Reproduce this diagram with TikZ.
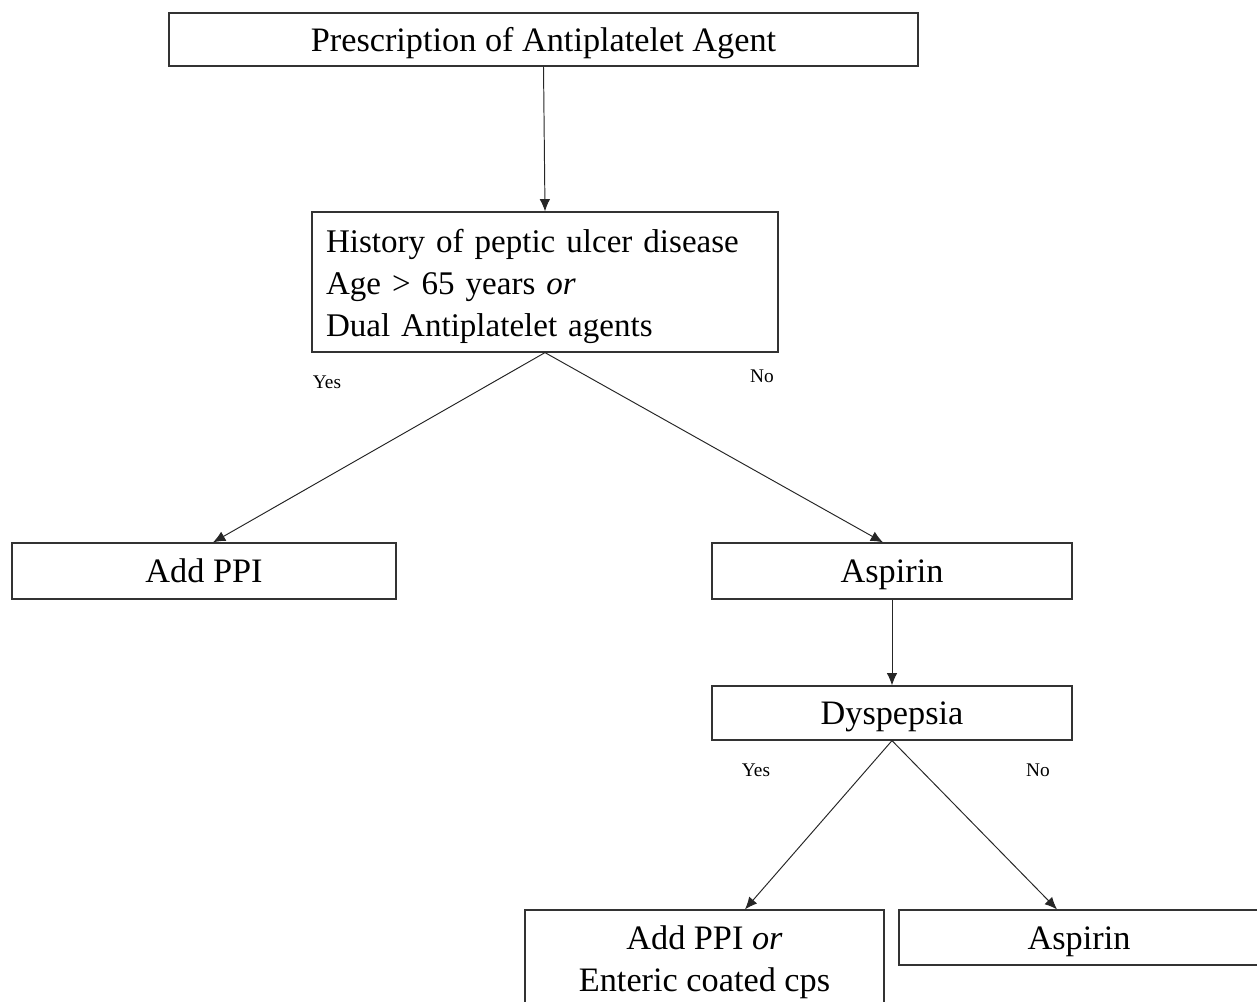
\documentclass[tikz,border=0pt]{standalone}
\usepackage{fontspec}
\setmainfont{Liberation Serif}
\usetikzlibrary{positioning, arrows.meta, calc}

\begin{document}
\begin{tikzpicture}[
    >={Latex[length=7pt, width=6pt]},
    block/.style={draw=black!80, line width=0.7pt, rectangle, minimum height=1.1cm, align=center, fill=white, font=\fontsize{19.5}{23.8}\selectfont},
    oneline/.style={text height=14.5pt, text depth=1pt},
    link/.style={->, draw=black!85, line width=0.55pt},
    answer/.style={font=\fontsize{11}{13}\selectfont, inner sep=1pt}
]

    \useasboundingbox (0,0) rectangle (25.14,-20.04);
    \clip (0,0) rectangle (25.14,-20.04);

    % Nodes
    \node[block, oneline, minimum width=14.98cm, minimum height=1.06cm] (presc) at (10.87,-0.79) {Prescription of Antiplatelet Agent};
    \node[block, align=left, text width=8.76cm, inner xsep=0.28cm, minimum height=2.8cm, font=\fontsize{18.8}{23.8}\selectfont] (history) at (10.9,-5.64)
        {\rule{0pt}{18pt}History of peptic ulcer disease\\ Age > 65 years \textit{or}\\ Dual Antiplatelet agents};
    \node[block, oneline, minimum width=7.68cm, minimum height=1.12cm] (addppi) at (4.08,-11.42) {Add PPI};
    \node[block, oneline, minimum width=7.2cm, minimum height=1.12cm] (aspirin) at (17.84,-11.42) {Aspirin};
    \node[block, oneline, minimum width=7.2cm, minimum height=1.08cm] (dyspepsia) at (17.84,-14.26) {Dyspepsia};
    \node[block, minimum width=7.18cm, minimum height=2.08cm] (addppiecc) at (14.09,-19.24) {Add PPI \textit{or}\\ Enteric coated cps};
    \node[block, oneline, minimum width=7.2cm, minimum height=1.1cm] (aspirinno) at (21.58,-18.75) {Aspirin};

    % Answers
    \node[answer] (histyes) at (6.54,-7.64) {Yes};
    \node[answer] (histno) at (15.24,-7.52) {No};
    \node[answer] (dysyes) at (15.12,-15.4) {Yes};
    \node[answer] (dysno) at (20.76,-15.4) {No};

    % Connections
    \draw[link] (presc.south) -- (history.north);
    \draw[link] (history.south) -- ([xshift=0.18cm]addppi.north);
    \draw[link] (history.south) -- ([xshift=-0.18cm]aspirin.north);
    \draw[link] (aspirin.south) -- (dyspepsia.north);
    \draw[link] (dyspepsia.south) -- ([xshift=0.81cm]addppiecc.north);
    \draw[link] (dyspepsia.south) -- ([xshift=-0.44cm]aspirinno.north);

\end{tikzpicture}
\end{document}
